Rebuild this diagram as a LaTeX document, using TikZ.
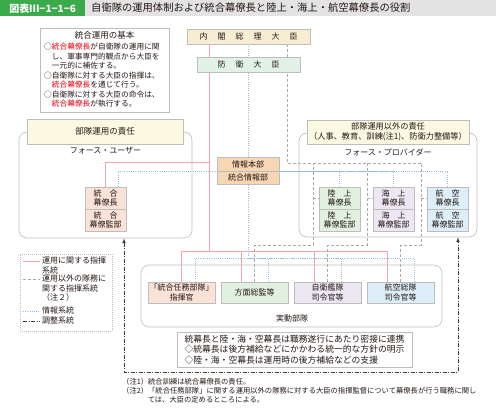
\documentclass[tikz,border=0pt]{standalone}
\usepackage{fontspec}
\setmainfont{Noto Sans CJK JP}
\usetikzlibrary{positioning,backgrounds}
\definecolor{titlegreen}{HTML}{3BAA4A}
\definecolor{titlegray}{HTML}{E3E3E3}
\definecolor{framegray}{HTML}{BDBDBD}
\definecolor{opspink}{HTML}{F2A5AC}
\definecolor{intelblue}{HTML}{93BEE3}
\definecolor{dutygray}{HTML}{ABABAB}
\definecolor{coordgray}{HTML}{3C3C3C}
\definecolor{jpred}{HTML}{E60012}
\definecolor{cabinetfill}{HTML}{F8EDD3}
\definecolor{ministerfill}{HTML}{E3F2E6}
\definecolor{dutyfill}{HTML}{FBF9E1}
\definecolor{intelfill}{HTML}{F7D6B4}
\definecolor{jointfill}{HTML}{FAE2D8}
\definecolor{groundfill}{HTML}{E2F1DF}
\definecolor{seafill}{HTML}{ECE7F2}
\definecolor{airfill}{HTML}{DDEEF8}
\definecolor{textdark}{HTML}{231815}

\begin{document}
\begin{tikzpicture}[x=1pt, y=-1pt, >=latex, font=\fontsize{8}{9.5}\selectfont, text=textdark,
    plainbox/.style={draw=framegray, line width=0.6pt, inner sep=1pt, align=center},
    areaframe/.style={draw=framegray, line width=0.6pt, rounded corners=8pt},
    staffbox/.style={plainbox, minimum width=41pt, minimum height=22pt},
    unitbox/.style={plainbox, minimum width=67pt, minimum height=21pt},
    opsline/.style={opspink, line width=0.8pt},
    dutyline/.style={dutygray, line width=0.5pt, dash pattern=on 3pt off 2pt},
    intelline/.style={intelblue, line width=0.7pt, dash pattern=on 1pt off 1.2pt},
    coordline/.style={coordgray, line width=0.7pt, dash pattern=on 4pt off 1.5pt on 1pt off 1.5pt}]
    \useasboundingbox (0,0) rectangle (496,417);

    \node (TitleBand) [fill=titlegray, anchor=north west, minimum width=496pt, minimum height=16pt, inner sep=0pt] at (0,0) {};
    \node (TitleTag) [fill=titlegreen, text=white, anchor=north west, minimum width=85pt, minimum height=16pt, inner sep=0pt, font=\fontsize{10}{12}\selectfont\bfseries] at (0,0) {図表Ⅲ−1−1−6};
    \node (TitleText) [anchor=west, inner sep=0pt, font=\fontsize{10.3}{12}\selectfont] at (91,8) {自衛隊の運用体制および統合幕僚長と陸上・海上・航空幕僚長の役割};

    \node (PrimeMinister) [plainbox, fill=cabinetfill, minimum width=123pt, minimum height=15pt] at (248.5,36.5) {内\hspace{10pt}閣\hspace{10pt}総\hspace{10pt}理\hspace{10pt}大\hspace{10pt}臣};
    \node (DefenseMinister) [plainbox, fill=ministerfill, minimum width=103pt, minimum height=15pt] at (248.5,64.5) {防\hspace{10pt}衛\hspace{10pt}大\hspace{10pt}臣};

    \node (JointBasics) [draw=framegray, line width=0.6pt, minimum width=129pt, minimum height=84pt] at (104.5,70) {};
    \node (JointBasicsHead) [font=\fontsize{8.5}{10}\selectfont] at (104.5,35) {統合運用の基本};
    \node (JointBasicsBody) [anchor=north west, align=left, inner sep=0pt, font=\fontsize{7.7}{9.5}\selectfont] at (44,43) {○{\color{jpred}統合幕僚長}が自衛隊の運用に関\\
        \hspace*{1em}し、軍事専門的観点から大臣を\\
        \hspace*{1em}一元的に補佐する。\\
        ○自衛隊に対する大臣の指揮は、\\
        \hspace*{1em}{\color{jpred}統合幕僚長}を通じて行う。\\
        ○自衛隊に対する大臣の命令は、\\
        \hspace*{1em}{\color{jpred}統合幕僚長}が執行する。};

    \node (UserFrame) [areaframe, minimum width=173pt, minimum height=106pt] at (105.5,185) {};
    \node (UserTitle) [plainbox, fill=dutyfill, minimum width=156pt, minimum height=25pt, font=\fontsize{8.5}{10}\selectfont] at (105,131.5) {部隊運用の責任};
    \node (UserLabel) at (105.5,151) {フォース・ユーザー};

    \node (ProviderFrame) [areaframe, minimum width=178pt, minimum height=104pt] at (388,185) {};
    \node (ProviderTitle) [plainbox, fill=dutyfill, minimum width=162pt, minimum height=24pt, font=\fontsize{8.2}{10}\selectfont] at (388,132) {部隊運用以外の責任\\（人事、教育、訓練(注1)、防衛力整備等）};
    \node (ProviderLabel) at (388,152) {フォース・プロバイダー};

    \node (IntelHQ) [plainbox, fill=intelfill, minimum width=62pt, minimum height=14pt] at (248,164) {情報本部};
    \node (JointIntel) [plainbox, fill=intelfill, minimum width=62pt, minimum height=13pt, below of=IntelHQ, node distance=13.5pt] {統合情報部};

    \node (JointChief) [staffbox, fill=jointfill] at (105.5,198) {統\hspace{1em}合\\幕僚長};
    \node (JointStaff) [staffbox, fill=jointfill, below of=JointChief, node distance=22pt] {統\hspace{1em}合\\幕僚監部};
    \node (GroundChief) [staffbox, fill=groundfill] at (339.5,198) {陸\hspace{1em}上\\幕僚長};
    \node (GroundStaff) [staffbox, fill=groundfill, below of=GroundChief, node distance=22pt] {陸\hspace{1em}上\\幕僚監部};
    \node (MaritimeChief) [staffbox, fill=seafill, right of=GroundChief, node distance=54pt] {海\hspace{1em}上\\幕僚長};
    \node (MaritimeStaff) [staffbox, fill=seafill, below of=MaritimeChief, node distance=22pt] {海\hspace{1em}上\\幕僚監部};
    \node (AirChief) [staffbox, fill=airfill, right of=MaritimeChief, node distance=54pt] {航\hspace{1em}空\\幕僚長};
    \node (AirStaff) [staffbox, fill=airfill, below of=AirChief, node distance=22pt] {航\hspace{1em}空\\幕僚監部};

    \node (ForcesFrame) [areaframe, minimum width=301pt, minimum height=62pt] at (291.5,296) {};
    \node (JTFCommander) [unitbox, fill=jointfill] at (181.5,292.5) {「統合任務部隊」\\指揮官};
    \node (ArmyCommand) [unitbox, fill=groundfill, right of=JTFCommander, node distance=73pt] {方面総監等};
    \node (FleetCommand) [unitbox, fill=seafill, right of=ArmyCommand, node distance=73pt] {自衛艦隊\\司令官等};
    \node (AirCommand) [unitbox, fill=airfill, right of=FleetCommand, node distance=73pt] {航空総隊\\司令官等};
    \node (ForcesLabel) at (292,318) {実動部隊};

    \node (CoordBox) [plainbox, align=left, minimum width=235pt, minimum height=35pt, font=\fontsize{8.8}{10.5}\selectfont] at (294.5,349.5) {統幕長と陸・海・空幕長は職務遂行にあたり密接に連携\\◇統幕長は後方補給などにかかわる統一的な方針の明示\\◇陸・海・空幕長は運用時の後方補給などの支援};

    \node (Legend) [draw=framegray, line width=0.6pt, dash pattern=on 1pt off 1pt, minimum width=92pt, minimum height=77pt] at (66,292.5) {};
    \node (LegendOps) [anchor=north west, align=left, inner sep=0pt] at (42,257) {運用に関する指揮\\系統};
    \node (LegendDuty) [anchor=north west, align=left, inner sep=0pt] at (42,275) {運用以外の隊務に\\関する指揮系統\\（注２）};
    \node (LegendIntel) [anchor=north west, inner sep=0pt] at (42,307) {情報系統};
    \node (LegendCoord) [anchor=north west, inner sep=0pt] at (42,317) {調整系統};
    \draw[opsline] (23,261) -- (40,261);
    \draw[dutyline] (23,279) -- (40,279);
    \draw[intelline] (23,311) -- (40,311);
    \draw[coordline] (23,321) -- (40,321);

    \node (Notes) [anchor=north west, align=left, inner sep=0pt, font=\fontsize{7.3}{9}\selectfont] at (122,378) {（注1）統合訓練は統合幕僚長の責任。\\（注2）「統合任務部隊」に関する運用以外の隊務に対する大臣の指揮監督について幕僚長が行う職務に関し\\\hspace*{3.5em}ては、大臣の定めるところによる。};

    \coordinate (OpsJoint) at (209,162);
    \coordinate (OpsBus) at (209,251);
    \coordinate (IntelLink) at (248.5,171);
    \coordinate (IntelBus) at (248.5,258);
    \coordinate (DutyBend) at (287,163);
    \coordinate (GroundDrop) at (313,163);
    \coordinate (GroundTurn) at (313,245);
    \coordinate (SeaDrop) at (367,163);
    \coordinate (SeaTurn) at (367,245);
    \coordinate (AirDrop) at (421,163);
    \coordinate (AirTurn) at (421,245);
    \coordinate (CoordLeft) at (124,372);
    \coordinate (CoordRight) at (458,372);

    \begin{scope}[on background layer]
        \draw[opsline] (PrimeMinister.south -| OpsBus) -- (OpsBus);
        \draw[opsline] (JointChief.north) |- (OpsJoint);
        \draw[opsline] (JTFCommander.north) |- (OpsBus);
        \draw[opsline] ([xshift=-13.5pt]ArmyCommand.north) |- (OpsBus);
        \draw[opsline] ([xshift=-13.5pt]FleetCommand.north) |- (OpsBus);
        \draw[opsline] ([xshift=-13.5pt]AirCommand.north) |- (OpsBus);

        \draw[intelline] (PrimeMinister.south) -- (IntelBus);
        \draw[intelline] ([xshift=12.5pt]JointChief.north) |- (IntelLink);
        \draw[intelline] (GroundChief.north) |- (IntelLink);
        \draw[intelline] (MaritimeChief.north) |- (IntelLink);
        \draw[intelline] (AirChief.north) |- (IntelLink);
        \draw[intelline] ([xshift=14pt]JTFCommander.north) |- (IntelBus);
        \draw[intelline] ([xshift=13.5pt]ArmyCommand.north) |- (IntelBus);
        \draw[intelline] ([xshift=13.5pt]FleetCommand.north) |- (IntelBus);
        \draw[intelline] ([xshift=13.5pt]AirCommand.north) |- (IntelBus);

        \draw[dutyline] (PrimeMinister.south -| DutyBend) -- (DutyBend) -- (AirDrop);
        \draw[dutyline] (ArmyCommand.north) |- (GroundTurn) -- (GroundDrop);
        \draw[dutyline] (FleetCommand.north) |- (SeaTurn) -- (SeaDrop);
        \draw[dutyline] (AirCommand.north) |- (AirTurn) -- (AirDrop);
        \draw[dutyline] (GroundChief.west -| GroundDrop) -- (GroundChief.west);
        \draw[dutyline] (MaritimeChief.west -| SeaDrop) -- (MaritimeChief.west);
        \draw[dutyline] (AirChief.west -| AirDrop) -- (AirChief.west);
    \end{scope}

    \draw[coordline, <->] (UserFrame.south -| CoordLeft) -- (CoordLeft) -- (CoordRight) -- (ProviderFrame.south -| CoordRight);
\end{tikzpicture}
\end{document}
